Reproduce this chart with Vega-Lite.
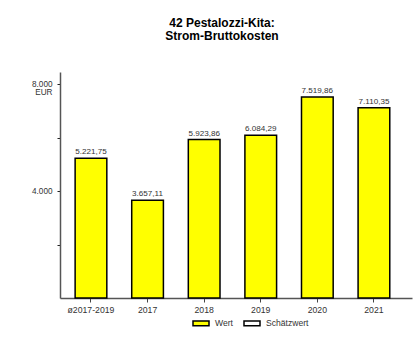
{
  "$schema": "https://vega.github.io/schema/vega-lite/v6.json",
  "autosize": {"type": "none"},
  "padding": {"left": 60, "top": 72, "right": 7, "bottom": 46},
  "width": 352,
  "height": 226,
  "background": "white",
  "title": {
    "text": ["42 Pestalozzi-Kita:", "Strom-Bruttokosten"],
    "font": "Liberation Sans",
    "fontSize": 12,
    "fontWeight": "bold",
    "color": "#000000",
    "anchor": "middle",
    "dx": -14,
    "offset": 29,
    "lineHeight": 13.5
  },
  "data": {
    "values": [
      {"Jahr": "ø2017-2019", "Kosten": 5221.75, "Label": "5.221,75", "Art": "Wert"},
      {"Jahr": "2017", "Kosten": 3657.11, "Label": "3.657,11", "Art": "Wert"},
      {"Jahr": "2018", "Kosten": 5923.86, "Label": "5.923,86", "Art": "Wert"},
      {"Jahr": "2019", "Kosten": 6084.29, "Label": "6.084,29", "Art": "Wert"},
      {"Jahr": "2020", "Kosten": 7519.86, "Label": "7.519,86", "Art": "Wert"},
      {"Jahr": "2021", "Kosten": 7110.35, "Label": "7.110,35", "Art": "Wert"}
    ]
  },
  "encoding": {
    "x": {
      "field": "Jahr",
      "type": "nominal",
      "sort": null,
      "scale": {"paddingInner": 0.44, "paddingOuter": 0.33, "align": 0.405},
      "axis": {
        "title": null,
        "labelAngle": 0,
        "labelFont": "Liberation Sans",
        "labelFontSize": 8.7,
        "labelColor": "#333333",
        "labelPadding": 3,
        "tickSize": 4,
        "tickColor": "#444444",
        "domainColor": "#555555",
        "domainWidth": 1.5,
        "grid": false
      }
    },
    "y": {
      "field": "Kosten",
      "type": "quantitative",
      "scale": {"domain": [0, 8450], "nice": false},
      "axis": {
        "title": null,
        "values": [2000, 4000, 6000, 8000],
        "labelExpr": "datum.value == 8000 ? ['8.000', 'EUR'] : (datum.value == 4000 ? '4.000' : '')",
        "labelFont": "Liberation Sans",
        "labelFontSize": 8.2,
        "labelColor": "#333333",
        "labelPadding": 5,
        "labelLineHeight": 8.5,
        "tickSize": 3,
        "tickColor": "#222222",
        "domainColor": "#555555",
        "domainWidth": 1.5,
        "grid": false
      }
    }
  },
  "layer": [
    {
      "mark": {"type": "bar", "stroke": "#000000", "strokeWidth": 1.5},
      "encoding": {
        "color": {
          "field": "Art",
          "type": "nominal",
          "scale": {"domain": ["Wert", "Schätzwert"], "range": ["#FFFF00", "#FFFFFF"]},
          "legend": {
            "title": null,
            "orient": "none",
            "direction": "horizontal",
            "legendX": 132,
            "legendY": 242,
            "padding": 0,
            "symbolType": "M-1,-0.3H1V0.3H-1Z",
            "symbolSize": 256,
            "symbolStrokeColor": "#000000",
            "symbolStrokeWidth": 1.5,
            "labelFont": "Liberation Sans",
            "labelFontSize": 8.6,
            "labelColor": "#333333",
            "labelOffset": 5,
            "columnPadding": 8
          }
        }
      }
    },
    {
      "mark": {
        "type": "text",
        "baseline": "bottom",
        "dy": -2,
        "font": "Liberation Sans",
        "fontSize": 8.1,
        "color": "#333333"
      },
      "encoding": {"text": {"field": "Label"}}
    }
  ],
  "config": {"view": {"stroke": null}}
}
